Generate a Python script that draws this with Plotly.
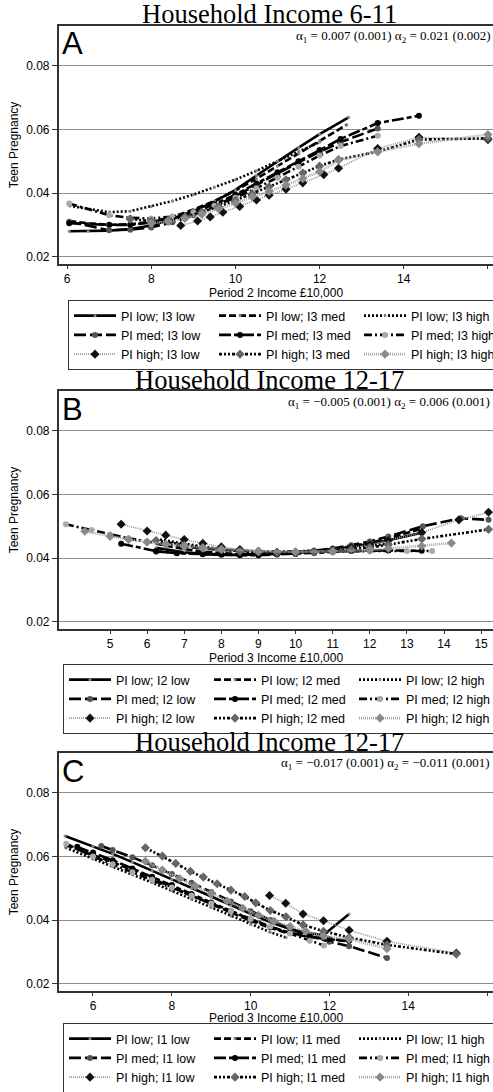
import plotly.graph_objects as go

# ---------------- Panel A: Household Income 6-11 (Period 2 income) ----------------
names_a = ["PI low; I3 low", "PI low; I3 med", "PI low; I3 high",
           "PI med; I3 low", "PI med; I3 med", "PI med; I3 high",
           "PI high; I3 low", "PI high; I3 med", "PI high; I3 high"]
a_x1 = [6.05, 6.5, 7.0, 7.5, 8.0, 8.5, 9.0, 9.5, 10.0, 10.5, 11.0, 11.5, 12.0, 12.69]
a_y1 = [0.0280, 0.0280, 0.0282, 0.0287, 0.0298, 0.0318, 0.0343, 0.0373, 0.0410, 0.0455, 0.0500, 0.0543, 0.0585, 0.0638]
a_x2 = [6.05, 6.5, 7.0, 7.5, 8.0, 8.5, 9.0, 9.5, 10.0, 10.5, 11.0, 11.5, 12.0, 12.65]
a_y2 = [0.0312, 0.0305, 0.0300, 0.0302, 0.0310, 0.0325, 0.0348, 0.0375, 0.0408, 0.0445, 0.0485, 0.0525, 0.0565, 0.0615]
a_x3 = [6.05, 6.5, 7.0, 7.5, 8.0, 8.5, 9.0, 9.5, 10.0, 10.5, 11.0, 11.5, 12.0]
a_y3 = [0.0360, 0.0350, 0.0340, 0.0343, 0.0358, 0.0375, 0.0395, 0.0418, 0.0442, 0.0470, 0.0500, 0.0530, 0.0560]
a_x4 = [6.05, 7.0, 7.5, 8.0, 8.5, 9.0, 9.5, 10.0, 10.5, 11.0, 11.5, 12.0, 12.5, 13.38]
a_y4 = [0.0310, 0.0283, 0.0285, 0.0292, 0.0308, 0.0330, 0.0357, 0.0390, 0.0425, 0.0462, 0.0497, 0.0530, 0.0560, 0.0603]
a_x5 = [6.05, 7.0, 7.5, 8.0, 8.5, 9.0, 9.5, 10.0, 10.5, 11.0, 11.5, 12.0, 12.5, 13.38, 14.36]
a_y5 = [0.0305, 0.0300, 0.0300, 0.0307, 0.0320, 0.0340, 0.0365, 0.0395, 0.0430, 0.0465, 0.0500, 0.0535, 0.0570, 0.0620, 0.0643]
a_x6 = [6.05, 7.0, 7.5, 8.0, 8.5, 9.0, 9.5, 10.0, 10.5, 11.0, 11.5, 12.0, 12.5, 13.38]
a_y6 = [0.0367, 0.0330, 0.0322, 0.0320, 0.0326, 0.0340, 0.0360, 0.0385, 0.0415, 0.0448, 0.0483, 0.0518, 0.0548, 0.0580]
a_x7 = [8.7, 9.1, 9.4, 9.7, 10.1, 10.5, 10.8, 11.2, 11.6, 12.1, 12.45, 13.38, 14.36, 16.0]
a_y7 = [0.0298, 0.0312, 0.0325, 0.0340, 0.0358, 0.0378, 0.0393, 0.0412, 0.0432, 0.0458, 0.0478, 0.0540, 0.0575, 0.0568]
a_x8 = [7.5, 8.0, 8.4, 8.8, 9.2, 9.6, 10.0, 10.4, 10.8, 11.2, 11.6, 12.0, 12.45, 13.38, 14.36, 16.0]
a_y8 = [0.0318, 0.0312, 0.0315, 0.0325, 0.0340, 0.0357, 0.0377, 0.0398, 0.0420, 0.0442, 0.0463, 0.0485, 0.0505, 0.0530, 0.0568, 0.0572]
a_x9 = [8.0, 8.4, 8.8, 9.2, 9.6, 10.0, 10.4, 10.8, 11.2, 11.6, 12.0, 12.45, 13.38, 14.36, 16.0]
a_y9 = [0.0305, 0.0310, 0.0320, 0.0333, 0.0350, 0.0368, 0.0388, 0.0405, 0.0425, 0.0445, 0.0467, 0.0503, 0.0530, 0.0555, 0.0584]

# ---------------- Panel B: Household Income 12-17 (Period 3 income, I2) ----------------
names_b = ["PI low; I2 low", "PI low; I2 med", "PI low; I2 high",
           "PI med; I2 low", "PI med; I2 med", "PI med; I2 high",
           "PI high; I2 low", "PI high; I2 med", "PI high; I2 high"]
b_x1 = [6.24, 7.0, 7.5, 8.0, 8.5, 9.0, 9.5, 10.0, 10.5, 11.0, 11.5, 12.0, 12.5, 13.43]
b_y1 = [0.0432, 0.0418, 0.0413, 0.0410, 0.0410, 0.0411, 0.0413, 0.0416, 0.0421, 0.0427, 0.0435, 0.0445, 0.0456, 0.0480]
b_x2 = [6.24, 7.0, 7.5, 8.0, 8.5, 9.0, 9.5, 10.0, 10.5, 11.0, 11.5, 12.0, 12.5, 13.43]
b_y2 = [0.0445, 0.0428, 0.0420, 0.0415, 0.0412, 0.0412, 0.0414, 0.0417, 0.0422, 0.0428, 0.0437, 0.0448, 0.0462, 0.0493]
b_x3 = [6.24, 7.0, 7.5, 8.0, 8.5, 9.0, 9.5, 10.0, 10.5, 11.0, 11.5, 12.0, 12.5]
b_y3 = [0.0460, 0.0445, 0.0436, 0.0428, 0.0423, 0.0420, 0.0419, 0.0420, 0.0423, 0.0427, 0.0433, 0.0440, 0.0445]
b_x4 = [6.24, 6.8, 7.5, 8.0, 8.5, 9.0, 9.5, 10.0, 10.5, 11.0, 11.5, 12.0, 12.5, 13.43, 14.46, 15.2]
b_y4 = [0.0420, 0.0416, 0.0413, 0.0412, 0.0412, 0.0413, 0.0415, 0.0418, 0.0423, 0.0430, 0.0440, 0.0452, 0.0468, 0.0500, 0.0525, 0.0520]
b_x5 = [5.3, 6.24, 6.8, 7.5, 8.0, 8.5, 9.0, 9.5, 10.0, 10.5, 11.0, 11.5, 12.0, 12.5, 13.4]
b_y5 = [0.0445, 0.0422, 0.0415, 0.0412, 0.0410, 0.0409, 0.0409, 0.0411, 0.0413, 0.0416, 0.0419, 0.0422, 0.0424, 0.0424, 0.0423]
b_x6 = [3.81, 4.5, 5.0, 5.5, 6.0, 6.5, 7.0, 7.5, 8.0, 9.0, 10.0, 11.0, 12.0, 13.0, 13.68]
b_y6 = [0.0506, 0.0488, 0.0474, 0.0462, 0.0452, 0.0443, 0.0436, 0.0430, 0.0426, 0.0421, 0.0420, 0.0421, 0.0422, 0.0422, 0.0422]
b_x7 = [5.3, 6.0, 6.5, 7.0, 7.5, 8.0, 8.5, 9.0, 9.5, 10.0, 10.5, 11.0, 11.5, 12.0, 12.5, 13.4, 14.4, 15.2]
b_y7 = [0.0506, 0.0485, 0.0472, 0.0458, 0.0446, 0.0435, 0.0427, 0.0421, 0.0418, 0.0418, 0.0420, 0.0425, 0.0432, 0.0442, 0.0455, 0.0480, 0.0520, 0.0544]
b_x8 = [6.24, 7.0, 7.5, 8.0, 8.5, 9.0, 9.5, 10.0, 10.5, 11.0, 11.5, 12.0, 12.5, 13.4, 15.2]
b_y8 = [0.0455, 0.0440, 0.0432, 0.0426, 0.0421, 0.0418, 0.0417, 0.0417, 0.0419, 0.0422, 0.0427, 0.0433, 0.0442, 0.0460, 0.0490]
b_x9 = [4.32, 5.0, 5.5, 6.0, 6.5, 7.0, 7.5, 8.0, 9.0, 10.0, 11.0, 12.0, 12.5, 13.4, 14.2]
b_y9 = [0.0484, 0.0468, 0.0458, 0.0450, 0.0443, 0.0437, 0.0432, 0.0428, 0.0422, 0.0420, 0.0421, 0.0425, 0.0430, 0.0438, 0.0447]

# ---------------- Panel C: Household Income 12-17 (Period 3 income, I1) ----------------
names_c = ["PI low; I1 low", "PI low; I1 med", "PI low; I1 high",
           "PI med; I1 low", "PI med; I1 med", "PI med; I1 high",
           "PI high; I1 low", "PI high; I1 med", "PI high; I1 high"]
c_x1 = [5.29, 6.0, 6.5, 7.0, 7.5, 8.0, 8.5, 9.0, 9.5, 10.0, 10.5, 11.0, 11.5, 11.85, 12.5]
c_y1 = [0.0664, 0.0632, 0.0608, 0.0582, 0.0555, 0.0528, 0.0500, 0.0472, 0.0445, 0.0418, 0.0393, 0.0372, 0.0358, 0.0353, 0.0419]
c_x2 = [5.3, 6.0, 6.5, 7.0, 7.5, 8.0, 8.5, 9.0, 9.5, 10.0, 10.5, 11.0, 11.5, 12.0, 12.5]
c_y2 = [0.0636, 0.0605, 0.0582, 0.0557, 0.0530, 0.0503, 0.0476, 0.0450, 0.0424, 0.0398, 0.0375, 0.0357, 0.0347, 0.0340, 0.0333]
c_x3 = [5.3, 6.0, 6.5, 7.0, 7.5, 8.0, 8.5, 9.0, 9.5, 10.0, 10.5, 10.9]
c_y3 = [0.0628, 0.0592, 0.0568, 0.0543, 0.0518, 0.0492, 0.0466, 0.0440, 0.0413, 0.0386, 0.0362, 0.0345]
c_x4 = [6.21, 6.5, 7.0, 7.5, 8.0, 8.5, 9.0, 9.5, 10.0, 10.5, 11.0, 11.5, 12.0, 12.5, 13.46]
c_y4 = [0.0633, 0.0620, 0.0597, 0.0572, 0.0545, 0.0517, 0.0488, 0.0458, 0.0428, 0.0400, 0.0373, 0.0350, 0.0332, 0.0318, 0.0281]
c_x5 = [5.6, 6.0, 6.5, 7.0, 7.5, 8.0, 8.5, 9.0, 9.5, 10.0, 10.5, 11.0, 11.5, 12.0, 12.5]
c_y5 = [0.0630, 0.0612, 0.0588, 0.0562, 0.0536, 0.0510, 0.0482, 0.0455, 0.0428, 0.0402, 0.0378, 0.0360, 0.0348, 0.0340, 0.0335]
c_x6 = [5.32, 6.0, 6.5, 7.0, 7.5, 8.0, 8.5, 9.0, 9.5, 10.0, 10.5, 11.0, 11.5, 11.86]
c_y6 = [0.0640, 0.0600, 0.0575, 0.0550, 0.0527, 0.0502, 0.0477, 0.0452, 0.0428, 0.0403, 0.0380, 0.0358, 0.0335, 0.0320]
c_x7 = [10.48, 10.89, 11.33, 11.85, 12.5, 13.46, 15.22]
c_y7 = [0.0477, 0.0453, 0.0419, 0.0398, 0.0368, 0.0333, 0.0296]
c_x8 = [7.33, 7.76, 8.1, 8.47, 8.8, 9.15, 9.5, 9.85, 10.13, 10.5, 10.9, 11.33, 11.85, 12.5, 13.46, 15.22]
c_y8 = [0.0627, 0.0601, 0.0578, 0.0553, 0.0535, 0.0514, 0.0494, 0.0474, 0.0454, 0.0430, 0.0410, 0.0385, 0.0365, 0.0345, 0.0322, 0.0293]
c_x9 = [7.33, 7.76, 8.2, 8.6, 9.0, 9.4, 9.8, 10.2, 10.6, 11.0, 11.4, 11.85, 12.5, 13.46]
c_y9 = [0.0585, 0.0557, 0.0530, 0.0506, 0.0483, 0.0460, 0.0437, 0.0415, 0.0396, 0.0380, 0.0365, 0.0350, 0.0340, 0.0310]

# axis ticks / labels
y_ticks = [0.02, 0.04, 0.06, 0.08]
y_ticktext = ["0.02", "0.04", "0.06", "0.08"]
a_xticks = [6, 8, 10, 12, 14, 16]
b_xticks = [5, 6, 7, 8, 9, 10, 11, 12, 13, 14, 15]
c_xticks = [6, 8, 10, 12, 14, 16]
titles = ["Household Income 6-11", "Household Income 12-17", "Household Income 12-17"]
letters = ["A", "B", "C"]
alphas = ["α<sub>1</sub> = 0.007 (0.001) α<sub>2</sub> = 0.021 (0.002)",
          "α<sub>1</sub> = −0.005 (0.001) α<sub>2</sub> = 0.006 (0.001)",
          "α<sub>1</sub> = −0.017 (0.001) α<sub>2</sub> = −0.011 (0.001)"]
xtitles = ["Period 2 Income £10,000", "Period 3 Income £10,000", "Period 3 Income £10,000"]
y_title = "Teen Pregnancy"

# ---------------- styles ----------------
styles = [
    dict(line=dict(color="#000000", width=2.6, dash="solid"), marker=dict(symbol="circle", size=3, color="#888888")),
    dict(line=dict(color="#000000", width=2.6, dash="7px,3px"), marker=dict(symbol="circle", size=3, color="#888888")),
    dict(line=dict(color="#000000", width=2.6, dash="2px,2px"), marker=dict(symbol="circle", size=3, color="#888888")),
    dict(line=dict(color="#000000", width=2.6, dash="12px,4px"), marker=dict(symbol="circle", size=6, color="#555555")),
    dict(line=dict(color="#000000", width=2.6, dash="12px,3px,5px,3px"), marker=dict(symbol="circle", size=6, color="#000000")),
    dict(line=dict(color="#000000", width=2.6, dash="8px,3px,2px,3px"), marker=dict(symbol="circle", size=6, color="#aaaaaa")),
    dict(line=dict(color="#9a9a9a", width=1.6, dash="1px,1px"), marker=dict(symbol="diamond", size=7, color="#111111")),
    dict(line=dict(color="#000000", width=2.6, dash="3px,2px,2px,2px,2px,2px"), marker=dict(symbol="diamond", size=7, color="#666666")),
    dict(line=dict(color="#a8a8a8", width=2.6, dash="1px,1px"), marker=dict(symbol="diamond", size=7, color="#8a8a8a")),
]

panels = [
    (names_a, [a_x1, a_x2, a_x3, a_x4, a_x5, a_x6, a_x7, a_x8, a_x9],
     [a_y1, a_y2, a_y3, a_y4, a_y5, a_y6, a_y7, a_y8, a_y9]),
    (names_b, [b_x1, b_x2, b_x3, b_x4, b_x5, b_x6, b_x7, b_x8, b_x9],
     [b_y1, b_y2, b_y3, b_y4, b_y5, b_y6, b_y7, b_y8, b_y9]),
    (names_c, [c_x1, c_x2, c_x3, c_x4, c_x5, c_x6, c_x7, c_x8, c_x9],
     [c_y1, c_y2, c_y3, c_y4, c_y5, c_y6, c_y7, c_y8, c_y9]),
]

W, H = 493, 1092

fig = go.Figure()
for p, (names, xs, ys) in enumerate(panels):
    sfx = "" if p == 0 else str(p + 1)
    for i in range(9):
        fig.add_trace(go.Scatter(
            x=xs[i], y=ys[i], name=names[i], mode="lines+markers",
            xaxis="x" + sfx, yaxis="y" + sfx, legend="legend" + sfx,
            line=styles[i]["line"], marker=styles[i]["marker"],
        ))

# pixel geometry (page coordinates)
plot_left = 58.7
plot_tops = [26, 391, 753]
plot_h = 238
x_ranges = [[5.80, 16.12], [3.617, 15.32], [5.13, 16.15]]
x_tickvals = [a_xticks, b_xticks, c_xticks]
legend_pos = [(68, 300), (63, 664), (63, 1023)]
title_y = [14, 380, 742]
letter_y = [44, 409, 771]
alpha_y = [37, 402, 763]
xtitle_y = [293, 658, 1018]


def px_x(v):
    return v / W


def px_y(v):
    return 1 - v / H


font_sans = "Liberation Sans, Arial, sans-serif"
font_serif = "Liberation Serif, Times New Roman, serif"

layout = dict(width=W, height=H, margin=dict(l=0, r=0, t=0, b=0, autoexpand=False),
              plot_bgcolor="white", paper_bgcolor="white",
              font=dict(family=font_sans, size=12, color="#000"),
              showlegend=True, annotations=[])

for p in range(3):
    sfx = "" if p == 0 else str(p + 1)
    top = plot_tops[p]
    layout["xaxis" + sfx] = dict(
        domain=[px_x(plot_left), 1], range=x_ranges[p], anchor="y" + sfx, automargin=False,
        tickvals=x_tickvals[p], ticks="outside", ticklen=3, tickcolor="#333",
        showline=True, mirror=True, linecolor="#333", linewidth=1.5,
        showgrid=False, zeroline=False, tickfont=dict(size=12),
    )
    layout["yaxis" + sfx] = dict(
        domain=[px_y(top + plot_h), px_y(top)], range=[0.0177, 0.0925], anchor="x" + sfx,
        automargin=False,
        tickvals=y_ticks, ticktext=y_ticktext, ticks="outside", ticklen=5, tickcolor="#333",
        showline=True, mirror=False, linecolor="#333", linewidth=1.5,
        showgrid=True, gridcolor="#8c8c8c", gridwidth=1, zeroline=False,
        tickfont=dict(size=12),
        title=dict(text=y_title, font=dict(size=12), standoff=5),
    )
    lx, ly = legend_pos[p]
    layout["legend" + sfx] = dict(
        x=px_x(lx), y=px_y(ly), xanchor="left", yanchor="top",
        orientation="h", entrywidth=88, entrywidthmode="pixels", itemwidth=42,
        bgcolor="white", bordercolor="#333", borderwidth=1,
        font=dict(family=font_sans, size=12.5, color="#000"),
        traceorder="normal",
    )
    layout["annotations"] += [
        dict(text=titles[p], x=px_x(269), y=px_y(title_y[p]), xref="paper", yref="paper",
             xanchor="center", yanchor="middle", showarrow=False,
             font=dict(family=font_serif, size=26.5, color="#000")),
        dict(text=letters[p], x=px_x(60), y=px_y(letter_y[p]), xref="paper", yref="paper",
             xanchor="left", yanchor="middle", showarrow=False,
             font=dict(family=font_sans, size=31, color="#000")),
        dict(text=alphas[p], x=px_x(492), y=px_y(alpha_y[p]), xref="paper", yref="paper",
             xanchor="right", yanchor="middle", showarrow=False,
             font=dict(family=font_serif, size=13, color="#000")),
        dict(text=xtitles[p], x=px_x((plot_left + W) / 2), y=px_y(xtitle_y[p]),
             xref="paper", yref="paper", xanchor="center", yanchor="middle", showarrow=False,
             font=dict(family=font_sans, size=12, color="#000")),
    ]

fig.update_layout(**layout)
# remove the default 8px page margin so the figure sits at the window's corner
fig.write_html("out.html", config={"displayModeBar": False},
               post_script="document.body.style.margin='0px';")
